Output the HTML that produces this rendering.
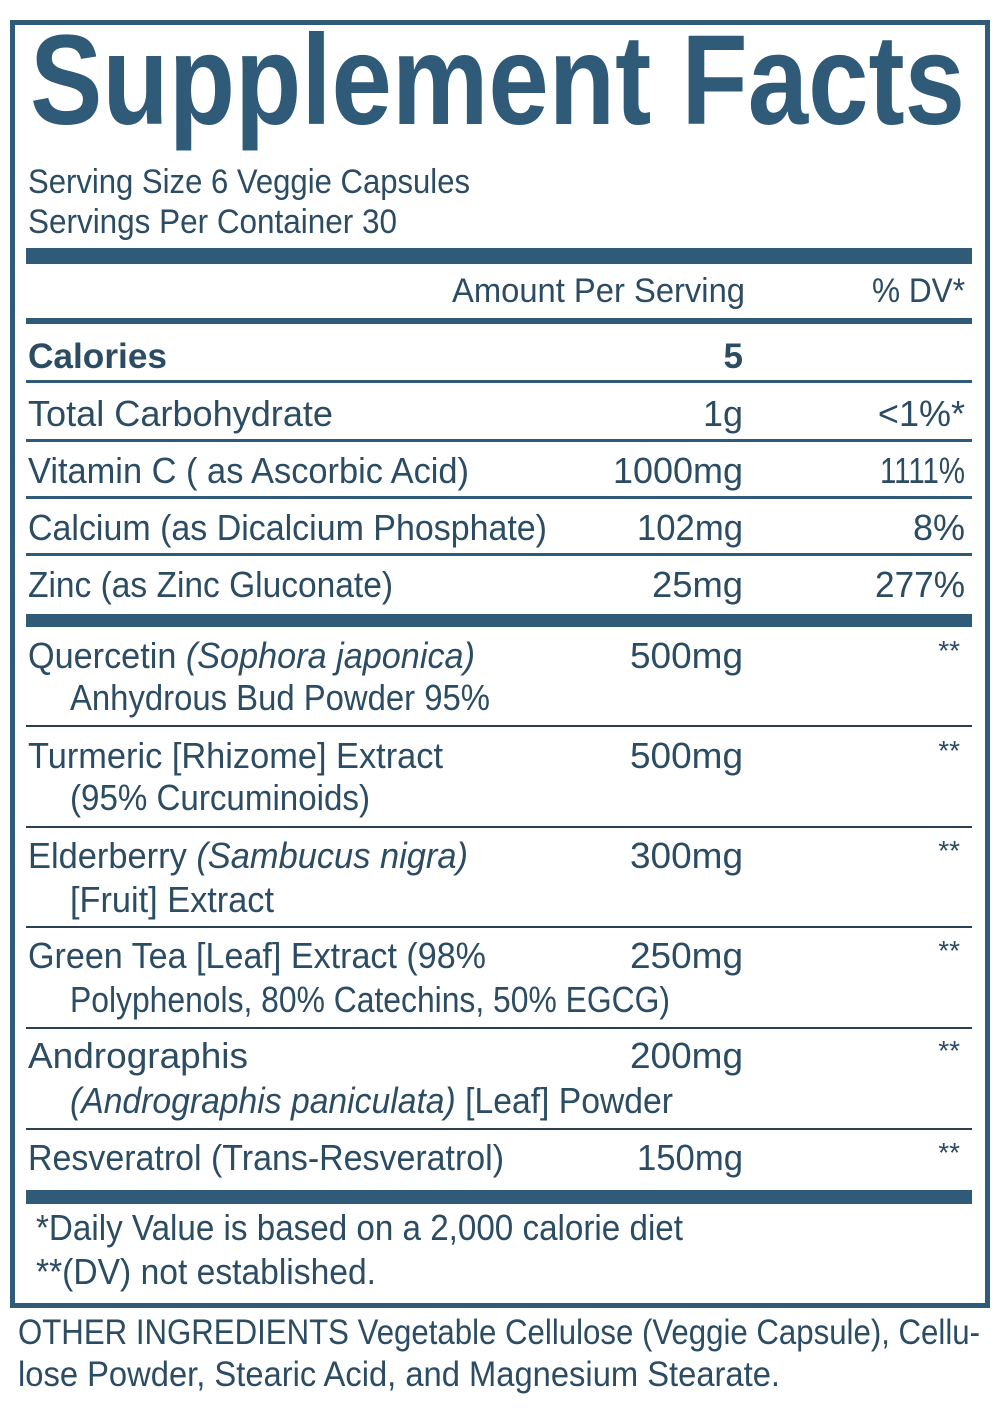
<!DOCTYPE html>
<html><head><meta charset="utf-8"><style>
html,body{margin:0;padding:0;background:#fff;}
svg{display:block;}
text{font-family:"Liberation Sans",sans-serif;fill:#2b4c63;}
</style></head><body>
<svg width="1000" height="1411" viewBox="0 0 1000 1411" xmlns="http://www.w3.org/2000/svg">
<rect x="12.5" y="22.5" width="975" height="1283" fill="none" stroke="#2f5a78" stroke-width="5"/>
<text x="30" y="124" font-size="128" font-weight="bold" fill="#2f5a78" style="fill:#2f5a78" textLength="935" lengthAdjust="spacingAndGlyphs">Supplement Facts</text>
<text x="28" y="193" font-size="34" textLength="442" lengthAdjust="spacingAndGlyphs">Serving Size 6 Veggie Capsules</text>
<text x="28" y="233" font-size="34" textLength="369" lengthAdjust="spacingAndGlyphs">Servings Per Container 30</text>
<rect x="26" y="248" width="946" height="16" fill="#2f5a78"/>
<text x="452" y="302" font-size="34" textLength="293" lengthAdjust="spacingAndGlyphs">Amount Per Serving</text>
<text x="872" y="302" font-size="34" textLength="93" lengthAdjust="spacingAndGlyphs">% DV*</text>
<rect x="26" y="318" width="946" height="6" fill="#2f5a78"/>
<text x="28" y="368" font-size="35" font-weight="bold" textLength="139" lengthAdjust="spacingAndGlyphs">Calories</text>
<text x="743" y="368" font-size="35" font-weight="bold" text-anchor="end">5</text>
<rect x="26" y="380" width="946" height="3" fill="#2f5a78"/>

<text x="28" y="426" font-size="36" textLength="305" lengthAdjust="spacingAndGlyphs">Total Carbohydrate</text>
<text x="743" y="426" font-size="36" text-anchor="end">1g</text>
<text x="965" y="426" font-size="36" text-anchor="end">&lt;1%*</text>
<rect x="26" y="439" width="946" height="3" fill="#2f5a78"/>

<text x="28" y="483" font-size="36" textLength="441" lengthAdjust="spacingAndGlyphs">Vitamin C ( as Ascorbic Acid)</text>
<text x="743" y="483" font-size="36" text-anchor="end" textLength="130" lengthAdjust="spacingAndGlyphs">1000mg</text>
<text x="965" y="483" font-size="36" text-anchor="end" textLength="85" lengthAdjust="spacingAndGlyphs">1111%</text>
<rect x="26" y="496" width="946" height="3" fill="#2f5a78"/>

<text x="28" y="540" font-size="36" textLength="519" lengthAdjust="spacingAndGlyphs">Calcium (as Dicalcium Phosphate)</text>
<text x="743" y="540" font-size="36" text-anchor="end" textLength="106" lengthAdjust="spacingAndGlyphs">102mg</text>
<text x="965" y="540" font-size="36" text-anchor="end">8%</text>
<rect x="26" y="553" width="946" height="3" fill="#2f5a78"/>

<text x="28" y="597" font-size="36" textLength="365" lengthAdjust="spacingAndGlyphs">Zinc (as Zinc Gluconate)</text>
<text x="743" y="597" font-size="36" text-anchor="end" textLength="91" lengthAdjust="spacingAndGlyphs">25mg</text>
<text x="965" y="597" font-size="36" text-anchor="end" textLength="90" lengthAdjust="spacingAndGlyphs">277%</text>
<rect x="26" y="614" width="946" height="13" fill="#2f5a78"/>

<text x="28" y="668" font-size="36" textLength="447" lengthAdjust="spacingAndGlyphs">Quercetin <tspan font-style="italic">(Sophora japonica)</tspan></text>
<text x="70" y="710" font-size="36" textLength="420" lengthAdjust="spacingAndGlyphs">Anhydrous Bud Powder 95%</text>
<text x="743" y="668" font-size="36" text-anchor="end" textLength="113" lengthAdjust="spacingAndGlyphs">500mg</text>
<text x="960" y="660" font-size="28" text-anchor="end">**</text>
<rect x="26" y="725" width="946" height="2" fill="#2a3f50"/>

<text x="28" y="768" font-size="36" textLength="415" lengthAdjust="spacingAndGlyphs">Turmeric [Rhizome] Extract</text>
<text x="70" y="810" font-size="36" textLength="300" lengthAdjust="spacingAndGlyphs">(95% Curcuminoids)</text>
<text x="743" y="768" font-size="36" text-anchor="end" textLength="113" lengthAdjust="spacingAndGlyphs">500mg</text>
<text x="960" y="760" font-size="28" text-anchor="end">**</text>
<rect x="26" y="826" width="946" height="2" fill="#2a3f50"/>

<text x="28" y="868" font-size="36" textLength="440" lengthAdjust="spacingAndGlyphs">Elderberry <tspan font-style="italic">(Sambucus nigra)</tspan></text>
<text x="70" y="912" font-size="36" textLength="204" lengthAdjust="spacingAndGlyphs">[Fruit] Extract</text>
<text x="743" y="868" font-size="36" text-anchor="end" textLength="113" lengthAdjust="spacingAndGlyphs">300mg</text>
<text x="960" y="860" font-size="28" text-anchor="end">**</text>
<rect x="26" y="926" width="946" height="2" fill="#2a3f50"/>

<text x="28" y="968" font-size="36" textLength="458" lengthAdjust="spacingAndGlyphs">Green Tea [Leaf] Extract (98%</text>
<text x="70" y="1012" font-size="36" textLength="600" lengthAdjust="spacingAndGlyphs">Polyphenols, 80% Catechins, 50% EGCG)</text>
<text x="743" y="968" font-size="36" text-anchor="end" textLength="113" lengthAdjust="spacingAndGlyphs">250mg</text>
<text x="960" y="960" font-size="28" text-anchor="end">**</text>
<rect x="26" y="1027" width="946" height="2" fill="#2a3f50"/>

<text x="28" y="1068" font-size="36" textLength="220" lengthAdjust="spacingAndGlyphs">Andrographis</text>
<text x="70" y="1113" font-size="36" textLength="603" lengthAdjust="spacingAndGlyphs"><tspan font-style="italic">(Andrographis paniculata)</tspan> [Leaf] Powder</text>
<text x="743" y="1068" font-size="36" text-anchor="end" textLength="113" lengthAdjust="spacingAndGlyphs">200mg</text>
<text x="960" y="1060" font-size="28" text-anchor="end">**</text>
<rect x="26" y="1128" width="946" height="2" fill="#2a3f50"/>

<text x="28" y="1170" font-size="36" textLength="476" lengthAdjust="spacingAndGlyphs">Resveratrol (Trans-Resveratrol)</text>
<text x="743" y="1170" font-size="36" text-anchor="end" textLength="106" lengthAdjust="spacingAndGlyphs">150mg</text>
<text x="960" y="1162" font-size="28" text-anchor="end">**</text>
<rect x="26" y="1190" width="946" height="14" fill="#2f5a78"/>

<text x="36" y="1240" font-size="36" textLength="647" lengthAdjust="spacingAndGlyphs">*Daily Value is based on a 2,000 calorie diet</text>
<text x="36" y="1284" font-size="36" textLength="340" lengthAdjust="spacingAndGlyphs">**(DV) not established.</text>

<text x="18" y="1344" font-size="35" textLength="962" lengthAdjust="spacingAndGlyphs">OTHER INGREDIENTS Vegetable Cellulose (Veggie Capsule), Cellu-</text>
<text x="18" y="1386" font-size="35" textLength="762" lengthAdjust="spacingAndGlyphs">lose Powder, Stearic Acid, and Magnesium Stearate.</text>
</svg>
</body></html>
